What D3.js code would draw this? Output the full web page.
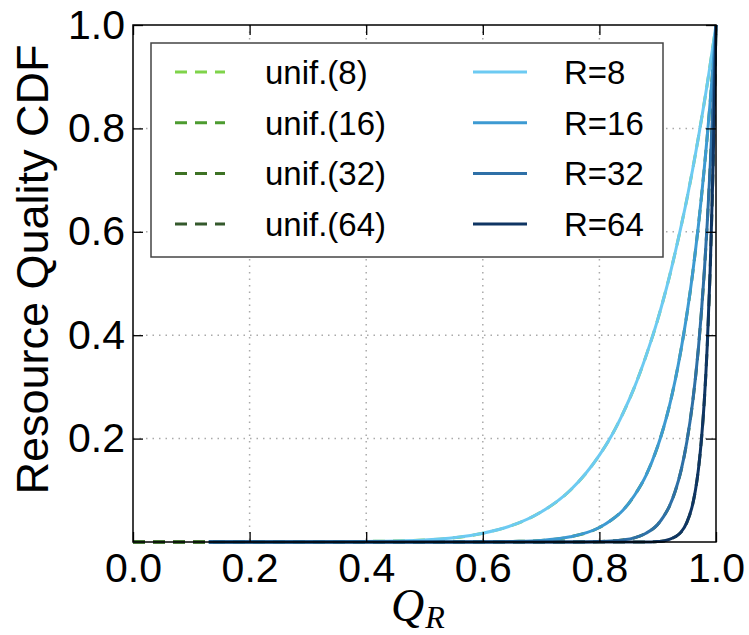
<!DOCTYPE html>
<html>
<head>
<meta charset="utf-8">
<script src="https://cdn.jsdelivr.net/npm/d3@7"></script>
<style>
  body { margin: 0; background: #fff; overflow: hidden; }
  svg { display: block; }
</style>
</head>
<body>
<svg></svg>
<script>
const w = 749
const h = 635

const qualityGrid = [0, 0.13, 0.2, 0.3, 0.4, 0.5, 0.55, 0.6, 0.65, 0.7, 0.75, 0.8, 0.82, 0.84, 0.86, 0.88,
  0.9, 0.91, 0.92, 0.93, 0.94, 0.95, 0.96, 0.965, 0.97, 0.975, 0.98, 0.985, 0.99, 0.995, 1.0]

// CDF values (one per grid point)
const cdf8 = [0, 0, 0, 0, 0.001, 0.004, 0.008, 0.017, 0.032, 0.058, 0.100, 0.168, 0.204, 0.248, 0.299, 0.360,
  0.430, 0.470, 0.513, 0.560, 0.610, 0.663, 0.721, 0.752, 0.784, 0.817, 0.851, 0.886, 0.923, 0.961, 1]
const cdf16 = [0, 0, 0, 0, 0, 0, 0, 0, 0.001, 0.003, 0.010, 0.028, 0.042, 0.061, 0.090, 0.129,
  0.185, 0.221, 0.263, 0.313, 0.372, 0.440, 0.520, 0.566, 0.614, 0.667, 0.724, 0.785, 0.851, 0.923, 1]
const cdf32 = [0, 0, 0, 0, 0, 0, 0, 0, 0, 0, 0, 0.001, 0.002, 0.004, 0.008, 0.017,
  0.034, 0.049, 0.069, 0.098, 0.138, 0.194, 0.271, 0.320, 0.377, 0.445, 0.524, 0.617, 0.725, 0.852, 1]
const cdf64 = [0, 0, 0, 0, 0, 0, 0, 0, 0, 0, 0, 0, 0, 0, 0, 0,
  0.001, 0.002, 0.005, 0.010, 0.019, 0.038, 0.073, 0.102, 0.142, 0.198, 0.274, 0.380, 0.526, 0.726, 1]

const unifLabels = ['unif.(8)', 'unif.(16)', 'unif.(32)', 'unif.(64)']
const resLabels = ['R=8', 'R=16', 'R=32', 'R=64']
const unifColors = ['#7fd34a', '#4c9b2f', '#3e7224', '#34592c']
const resColors = ['#6ccaf2', '#3d9ad2', '#2e70a7', '#0f3563']
const cdfSeries = [cdf8, cdf16, cdf32, cdf64]

const xTicks = [0, 0.2, 0.4, 0.6, 0.8, 1.0]
const yTicks = [0.2, 0.4, 0.6, 0.8, 1.0]

const sans = '"Liberation Sans", Arial, sans-serif'

const svg = d3.select('svg')
  .attr('width', w)
  .attr('height', h)
  .style('font-family', sans);

const margin = {top: 25, right: 33, bottom: 93, left: 133};
const innerWidth = w - margin.left - margin.right;
const innerHeight = h - margin.top - margin.bottom;

const xScale = d3.scaleLinear().domain([0, 1]).range([0, innerWidth]);
const yScale = d3.scaleLinear().domain([0, 1]).range([innerHeight, 0]);

const g = svg.append('g')
  .attr('transform', `translate(${margin.left}, ${margin.top})`);

// dotted grid
g.append('g').selectAll('line').data(xTicks.slice(1, -1))
  .enter().append('line')
  .attr('x1', d => xScale(d)).attr('x2', d => xScale(d))
  .attr('y1', 0).attr('y2', innerHeight)
  .attr('stroke', '#aaa').attr('stroke-width', 1.5).attr('stroke-dasharray', '1.5,5');
g.append('g').selectAll('line').data(yTicks.slice(0, -1))
  .enter().append('line')
  .attr('y1', d => yScale(d)).attr('y2', d => yScale(d))
  .attr('x1', 0).attr('x2', innerWidth)
  .attr('stroke', '#aaa').attr('stroke-width', 1.5).attr('stroke-dasharray', '1.5,5');

// curves
const line = d3.line()
  .x(d => xScale(d[0]))
  .y(d => yScale(d[1]))
  .curve(d3.curveMonotoneX);

cdfSeries.forEach((vals, i) => {
  g.append('path')
    .datum(qualityGrid.map((q, j) => [q, vals[j]]))
    .attr('d', line)
    .attr('fill', 'none')
    .attr('stroke', unifColors[i])
    .attr('stroke-width', 3)
    .attr('stroke-dasharray', '12,8');
});
cdfSeries.forEach((vals, i) => {
  g.append('path')
    .datum(qualityGrid.map((q, j) => [q, vals[j]]).slice(1)) // sampled curves start at ~0.13
    .attr('d', line)
    .attr('fill', 'none')
    .attr('stroke', resColors[i])
    .attr('stroke-width', 3);
});

// axes, ticks pointing inward
const styleAxis = sel => {
  sel.select('.domain').remove();
  sel.selectAll('.tick line').attr('stroke', '#000').attr('stroke-width', 1.3);
  sel.selectAll('.tick text').attr('fill', '#000').attr('font-size', 41)
    .attr('font-family', sans);
};
const noLabels = sel => {
  sel.select('.domain').remove();
  sel.selectAll('.tick text').remove();
  sel.selectAll('.tick line').attr('stroke', '#000').attr('stroke-width', 1.3);
};

g.append('g')
  .attr('transform', `translate(0, ${innerHeight})`)
  .call(d3.axisBottom(xScale).tickValues(xTicks).tickFormat(d3.format('.1f'))
    .tickSize(-10).tickPadding(11))
  .call(styleAxis);
g.append('g')
  .call(d3.axisTop(xScale).tickValues(xTicks).tickSize(-10))
  .call(noLabels);
g.append('g')
  .call(d3.axisLeft(yScale).tickValues(yTicks).tickFormat(d3.format('.1f'))
    .tickSize(-10).tickPadding(8))
  .call(styleAxis);
g.append('g')
  .attr('transform', `translate(${innerWidth}, 0)`)
  .call(d3.axisRight(yScale).tickValues(yTicks).tickSize(-10))
  .call(noLabels);

g.append('rect')
  .attr('width', innerWidth).attr('height', innerHeight)
  .attr('fill', 'none').attr('stroke', '#000').attr('stroke-width', 1.5);

// axis labels
svg.append('text')
  .attr('transform', `translate(48, ${margin.top + innerHeight / 2 - 14}) rotate(-90)`)
  .attr('text-anchor', 'middle')
  .attr('font-size', 45)
  .text('Resource Quality CDF');

const xl = svg.append('text')
  .attr('x', 391).attr('y', 621)
  .style('font-family', '"Liberation Serif", "DejaVu Serif", serif')
  .style('font-style', 'italic')
  .attr('font-size', 46);
xl.append('tspan').text('Q');
xl.append('tspan').attr('dx', 1).attr('dy', 7).attr('font-size', 32).text('R');

// legend
const leg = g.append('g').attr('transform', `translate(${151 - margin.left}, ${43 - margin.top})`);
leg.append('rect')
  .attr('width', 512).attr('height', 214)
  .attr('fill', '#fff').attr('stroke', '#444').attr('stroke-width', 1.5);

const rowY = i => 29 + i * 50.7;

unifLabels.forEach((lab, i) => {
  leg.append('line')
    .attr('x1', 24).attr('x2', 74).attr('y1', rowY(i)).attr('y2', rowY(i))
    .attr('stroke', unifColors[i]).attr('stroke-width', 3).attr('stroke-dasharray', '12,8');
  leg.append('text').attr('x', 114).attr('y', rowY(i) + 12)
    .attr('font-size', 33).text(lab);
});
resLabels.forEach((lab, i) => {
  leg.append('line')
    .attr('x1', 322).attr('x2', 376).attr('y1', rowY(i)).attr('y2', rowY(i))
    .attr('stroke', resColors[i]).attr('stroke-width', 3);
  leg.append('text').attr('x', 413).attr('y', rowY(i) + 12)
    .attr('font-size', 33).text(lab);
});
</script>
</body>
</html>
